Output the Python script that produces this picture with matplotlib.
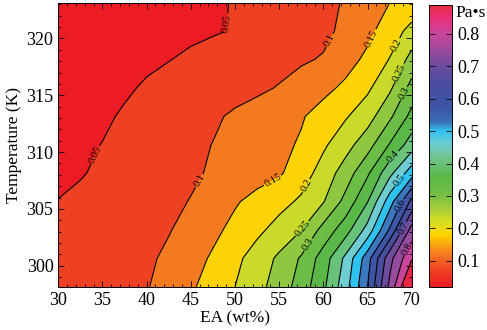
import numpy as np
import matplotlib
matplotlib.use("Agg")
import matplotlib.pyplot as plt
from matplotlib.colors import LinearSegmentedColormap, Normalize
from matplotlib.cm import ScalarMappable
from matplotlib.ticker import MultipleLocator

plt.rcParams["font.family"] = ["Liberation Serif", "DejaVu Serif"]

# grid: EA (wt%) columns, temperature (K) rows
ea = [30.0, 32.5, 35.0, 37.5, 40.0, 42.5, 45.0, 47.5, 50.0,
      52.5, 55.0, 57.5, 60.0, 62.5, 65.0, 67.5, 70.0]
temp = [298.15, 300.65, 303.15, 305.65, 308.15, 310.65,
        313.15, 315.65, 318.15, 320.65, 323.15]

# viscosity (Pa s), one row per temperature
visc = [
    [0.070, 0.073, 0.077, 0.083, 0.097, 0.119, 0.143, 0.171, 0.200, 0.234, 0.272, 0.322, 0.390, 0.480, 0.600, 0.761, 0.930],
    [0.064, 0.068, 0.073, 0.080, 0.091, 0.110, 0.132, 0.156, 0.188, 0.222, 0.259, 0.306, 0.373, 0.461, 0.578, 0.733, 0.845],
    [0.058, 0.063, 0.068, 0.075, 0.085, 0.097, 0.118, 0.139, 0.163, 0.189, 0.218, 0.249, 0.317, 0.378, 0.468, 0.606, 0.770],
    [0.051, 0.056, 0.062, 0.070, 0.079, 0.089, 0.102, 0.123, 0.145, 0.165, 0.184, 0.208, 0.247, 0.315, 0.398, 0.526, 0.663],
    [0.041, 0.048, 0.055, 0.063, 0.071, 0.080, 0.092, 0.106, 0.118, 0.131, 0.144, 0.176, 0.221, 0.273, 0.342, 0.435, 0.528],
    [0.034, 0.041, 0.051, 0.060, 0.069, 0.078, 0.089, 0.101, 0.114, 0.126, 0.139, 0.155, 0.192, 0.231, 0.279, 0.353, 0.424],
    [0.028, 0.034, 0.043, 0.055, 0.064, 0.073, 0.082, 0.093, 0.107, 0.120, 0.133, 0.146, 0.168, 0.195, 0.229, 0.290, 0.365],
    [0.024, 0.029, 0.036, 0.044, 0.055, 0.062, 0.069, 0.076, 0.083, 0.091, 0.103, 0.120, 0.138, 0.159, 0.191, 0.241, 0.317],
    [0.021, 0.025, 0.030, 0.036, 0.042, 0.049, 0.056, 0.063, 0.070, 0.077, 0.084, 0.094, 0.104, 0.132, 0.160, 0.202, 0.267],
    [0.020, 0.022, 0.025, 0.029, 0.033, 0.038, 0.043, 0.047, 0.052, 0.060, 0.068, 0.077, 0.088, 0.112, 0.138, 0.174, 0.216],
    [0.020, 0.021, 0.023, 0.026, 0.030, 0.034, 0.039, 0.045, 0.052, 0.060, 0.070, 0.080, 0.091, 0.103, 0.126, 0.150, 0.166],
]

levels = [0.05, 0.10, 0.15, 0.20, 0.25, 0.30, 0.35, 0.40, 0.45,
          0.50, 0.55, 0.60, 0.65, 0.70, 0.75, 0.80, 0.85]
band_colors = ["#ec1c24", "#ee4124", "#f47a20", "#fed305", "#c9da2b", "#8fc740",
               "#6bbd45", "#5ab848", "#68c27a", "#6dcdd0", "#2ec2ef", "#3b78be",
               "#3e55a5", "#4a4e9f", "#6e4b9d", "#974b9e", "#c8459a", "#ea2548"]

# colour bar stops
cbar_vals = [0.02, 0.07, 0.12, 0.18, 0.22, 0.26, 0.30, 0.36, 0.42, 0.46,
             0.50, 0.53, 0.58, 0.65, 0.70, 0.75, 0.80, 0.85, 0.89]
cbar_cols = ["#ec1c24", "#ef4123", "#f47b20", "#ffd400", "#d6df23", "#a6cf3a",
             "#76bf43", "#5bb749", "#72c390", "#6dcbd0", "#30c4f1", "#3b6cb5",
             "#3d53a3", "#4b4d9f", "#6a4b9d", "#9b4a9e", "#c8469b", "#ea2e7c", "#ed2a3c"]
vmin, vmax = 0.02, 0.89

# label positions (EA, T) for the contour labels
label_pos = {
    0.05: [(34.3, 309.7), (49.2, 321.3)],
    0.10: [(45.7, 307.6), (60.8, 319.8)],
    0.15: [(54.0, 307.9), (65.5, 320.0)],
    0.20: [(57.7, 307.2), (67.9, 319.6)],
    0.25: [(57.4, 303.4), (68.4, 317.1)],
    0.30: [(58.0, 302.0), (69.0, 315.2)],
    0.40: [(67.8, 309.7)],
    0.50: [(68.1, 307.8)],
    0.60: [(68.2, 305.5)],
    0.70: [(68.7, 303.4)],
    0.80: [(69.2, 301.6)],
}

fig = plt.figure(figsize=(4.87, 3.30), dpi=100)
ax = fig.add_axes([0.1197, 0.1312, 0.7257, 0.8606])
cax = fig.add_axes([0.8815, 0.1312, 0.0472, 0.8546])

Z = np.array(visc)
ax.contourf(ea, temp, Z, levels=[0.0] + levels + [1.0], colors=band_colors)
# one contour set per level so each can carry its own labels
for lv in levels:
    cs = ax.contour(ea, temp, Z, levels=[lv], colors="k", linewidths=0.8)
    if lv in label_pos:
        ax.clabel(cs, manual=label_pos[lv], fmt="%g", fontsize=7.5,
                  inline=True, inline_spacing=1)

ax.set_xlim(30, 70)
ax.set_ylim(298.15, 323.15)
ax.xaxis.set_major_locator(MultipleLocator(5))
ax.xaxis.set_minor_locator(MultipleLocator(1))
ax.yaxis.set_major_locator(MultipleLocator(5))
ax.yaxis.set_minor_locator(MultipleLocator(1))
ax.tick_params(which="both", direction="in", top=True, right=True, labelsize=13)
ax.tick_params(which="major", length=4, width=0.6)
ax.tick_params(which="minor", length=2.5, width=0.6)
for s in ax.spines.values():
    s.set_linewidth(0.7)
ax.set_xlabel("EA (wt%)", fontsize=12.5, labelpad=1)
ax.set_ylabel("Temperature (K)", fontsize=12.5, labelpad=3)

pos = [(v - vmin) / (vmax - vmin) for v in cbar_vals]
cmap = LinearSegmentedColormap.from_list("visc", list(zip(pos, cbar_cols)), N=256)
cb = fig.colorbar(ScalarMappable(norm=Normalize(vmin, vmax), cmap=cmap), cax=cax)
cb.set_ticks([0.1, 0.2, 0.3, 0.4, 0.5, 0.6, 0.7, 0.8])
cb.ax.set_yticklabels(["0.1", "0.2", "0.3", "0.4", "0.5", "0.6", "0.7", "0.8"])
cb.ax.tick_params(direction="in", left=True, right=True, length=4, width=0.6,
                  labelsize=13, pad=4)
cb.outline.set_linewidth(0.7)
cax.text(1.15, 0.972, "Pa\u2022s", transform=cax.transAxes, fontsize=12.5,
         ha="left", va="center")

fig.savefig("out.png", dpi=100)
